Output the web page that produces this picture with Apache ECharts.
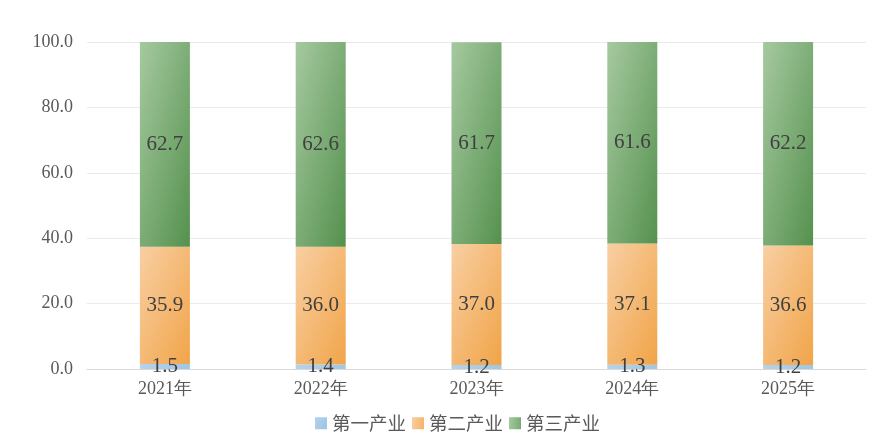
<!DOCTYPE html>
<html lang="zh">
<head>
    <meta charset="UTF-8"/>
    <script src="https://cdn.jsdelivr.net/npm/echarts@6/dist/echarts.min.js"></script>
    <title>industry_structure</title>
    <style>
        html, body { margin: 0; padding: 0; background: #fff; }
    </style>
</head>
<body>
<div id="main" style="width: 873px;height:441px;"></div>
<script type="text/javascript">
    // 数据
    var years = ['2021年', '2022年', '2023年', '2024年', '2025年'];
    var primary = [1.5, 1.4, 1.2, 1.3, 1.2];
    var secondary = [35.9, 36.0, 37.0, 37.1, 36.6];
    var tertiary = [62.7, 62.6, 61.7, 61.6, 62.2];
    var seriesNames = ['第一产业', '第二产业', '第三产业'];

    var serif = '"Liberation Serif", "Times New Roman", serif';
    var cjk = '"Noto Sans CJK SC", sans-serif';

    // 斜向渐变：左上浅、右下深
    function grad(c1, c2, dy) {
        return new echarts.graphic.LinearGradient(0, 0, 1.88, dy, [
            {offset: 0, color: c1},
            {offset: 1, color: c2}
        ]);
    }

    var labelStyle = {
        show: true,
        position: 'inside',
        fontFamily: serif,
        fontSize: 21,
        color: '#404040',
        formatter: function (p) { return p.value.toFixed(1); }
    };

    var myChart = echarts.init(document.getElementById('main'));

    var option = {
        animation: false,
        grid: {left: 87, right: 7, top: 42, bottom: 72},
        legend: {
            top: 409,
            left: 310,
            itemWidth: 12,
            itemHeight: 12,
            itemGap: 6,
            icon: 'rect',
            textStyle: {fontFamily: cjk, fontSize: 18.5, color: '#595959'},
            data: seriesNames
        },
        xAxis: {
            type: 'category',
            data: years,
            axisLine: {lineStyle: {color: '#d9d9d9'}},
            axisTick: {show: false},
            axisLabel: {
                fontSize: 18,
                color: '#595959',
                margin: 11,
                fontFamily: serif
            }
        },
        yAxis: {
            type: 'value',
            min: 0,
            max: 100,
            interval: 20,
            axisLine: {show: false},
            axisTick: {show: false},
            splitLine: {lineStyle: {color: '#ebebeb'}},
            axisLabel: {
                fontFamily: serif,
                fontSize: 18,
                color: '#595959',
                margin: 14,
                formatter: function (v) { return v.toFixed(1); }
            }
        },
        series: [
            {
                name: seriesNames[0],
                type: 'bar',
                stack: 'total',
                barWidth: 50,
                data: primary,
                itemStyle: {color: grad('#b4d3ec', '#8dbbe0', 1)},
                label: labelStyle
            },
            {
                name: seriesNames[1],
                type: 'bar',
                stack: 'total',
                barWidth: 50,
                data: secondary,
                itemStyle: {color: grad('#f8cfa3', '#f0a03f', 0.34)},
                label: labelStyle
            },
            {
                name: seriesNames[2],
                type: 'bar',
                stack: 'total',
                barWidth: 50,
                data: tertiary,
                itemStyle: {color: grad('#a6c9a0', '#56924f', 0.118)},
                label: labelStyle
            }
        ]
    };

    myChart.setOption(option);
</script>
</body>
</html>
